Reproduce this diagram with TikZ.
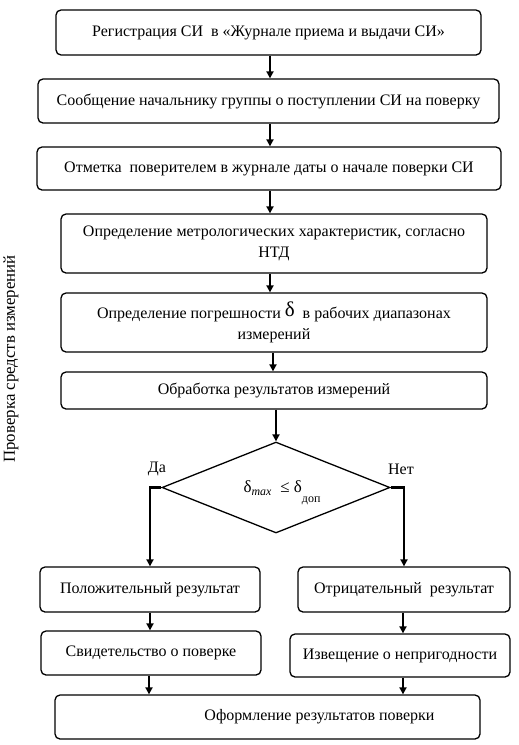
\documentclass[tikz,border=0pt]{standalone}
\usepackage{fontspec}
\setmainfont{Liberation Serif}
\usetikzlibrary{shapes.geometric,arrows.meta}
\begin{document}
\begin{tikzpicture}[x=1pt,y=-1pt,
  box/.style={draw, line width=1.3pt, rounded corners=5pt, align=center,
    font=\fontsize{16}{21}\selectfont, inner sep=0pt},
  arr/.style={line width=2.2pt, -{Triangle[length=7pt,width=7pt]}},
  lbl/.style={font=\fontsize{16}{18}\selectfont, inner sep=0pt}]
\useasboundingbox (0,0) rectangle (519,745);
\node[box, minimum width=425, minimum height=45] (b1) at (268.5,32.5)
  {Регистрация СИ\ \ в «Журнале приема и выдачи СИ»};
\node[box, minimum width=461, minimum height=44] (b2) at (268.5,101)
  {Сообщение начальнику группы о поступлении СИ на поверку};
\node[box, minimum width=464, minimum height=43] (b3) at (269,168.5)
  {Отметка\ \ поверителем в журнале даты о начале поверки СИ};
\node[box, minimum width=426, minimum height=59] (b4) at (274,243.5)
  {Определение метрологических характеристик, согласно\\НТД};
\node[box, minimum width=426, minimum height=59] (b5) at (274,322.5)
  {Определение погрешности {\fontsize{21}{21}\selectfont\raisebox{2pt}{δ}}\ \ в рабочих диапазонах\\измерений};
\node[box, minimum width=426, minimum height=37] (b6) at (274,390.5)
  {Обработка результатов измерений};
\node[draw, diamond, line width=1.3pt, minimum width=228, minimum height=91,
  inner sep=0pt, font=\fontsize{17}{17}\selectfont] (dia) at (276,487.5)
  {\smash{\makebox[0pt]{\hspace*{12pt}\raisebox{-5pt}{δ\textsubscript{\textit{max}}\ \ ≤ δ\raisebox{-10pt}{\fontsize{12}{12}\selectfont доп}}}}};
\node[box, minimum width=220, minimum height=45] (b7) at (150,589.5)
  {Положительный результат};
\node[box, minimum width=212, minimum height=45] (b8) at (404,589.5)
  {Отрицательный\ \ результат};
\node[box, minimum width=220, minimum height=44] (b9) at (151,653)
  {Свидетельство о поверке};
\node[box, minimum width=220, minimum height=43] (b10) at (400,655.5)
  {Извещение о непригодности};
\node[box, minimum width=425, minimum height=44] (b11) at (267.5,717)
  {\hspace*{104pt}Оформление результатов поверки};
\node[lbl] (yes) at (157,469) {Да};
\node[lbl] (no) at (401,469) {Нет};
\node[rotate=90, font=\fontsize{16.8}{18}\selectfont, inner sep=0pt] (side) at (11,359)
  {Проверка средств измерений};
\draw[arr] ([xshift=1.5pt]b1.south) -- ([xshift=1.5pt]b1.south |- b2.north);
\draw[arr] ([xshift=1.5pt]b2.south) -- ([xshift=1.5pt]b2.south |- b3.north);
\draw[arr] ([xshift=1pt]b3.south) -- ([xshift=1pt]b3.south |- b4.north);
\draw[arr] ([xshift=-4pt]b4.south) -- ([xshift=-4pt]b4.south |- b5.north);
\draw[arr] ([xshift=-1pt]b5.south) -- ([xshift=-1pt]b5.south |- b6.north);
\draw[arr] (dia.north |- b6.south) -- (dia.north);
\draw[arr] (dia.west) -| (b7.north);
\draw[arr] (dia.east) -| (b8.north);
\draw[arr] (b7.south) -- (b7.south |- b9.north);
\draw[arr] ([xshift=-1pt]b8.south) -- ([xshift=-1pt]b8.south |- b10.north);
\draw[arr] ([xshift=-2pt]b9.south) -- ([xshift=-2pt]b9.south |- b11.north);
\draw[arr] ([xshift=3pt]b10.south) -- ([xshift=3pt]b10.south |- b11.north);
\end{tikzpicture}
\end{document}
